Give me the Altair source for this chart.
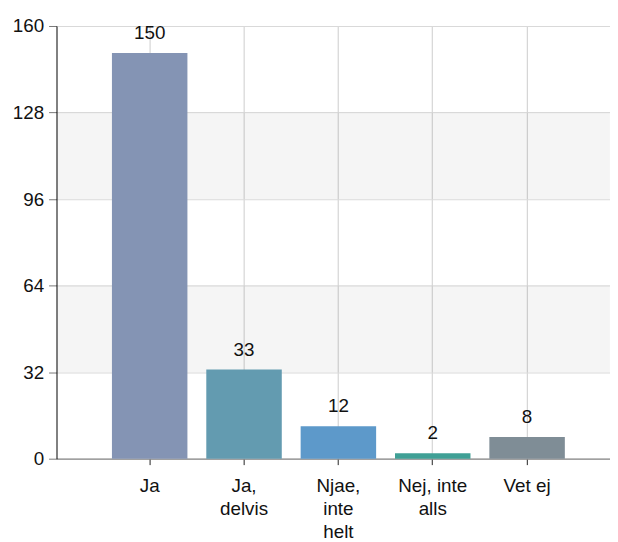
import json
import altair as alt
import pandas as pd

categories = ["Ja", "Ja, delvis", "Njae, inte helt", "Nej, inte alls", "Vet ej"]
counts = [150, 33, 12, 2, 8]
colors = ["#8494b4", "#639bb0", "#5d99ca", "#40a096", "#7f8d96"]
label_lines = [["Ja"], ["Ja,", "delvis"], ["Njae,", "inte", "helt"], ["Nej, inte", "alls"], ["Vet ej"]]
y_ticks = [0, 32, 64, 96, 128, 160]
band_lo = [32, 96]
band_hi = [64, 128]

FONT = "Arial, Liberation Sans, sans-serif"

df = pd.DataFrame({"cat": categories, "n": counts})
bands = pd.DataFrame({"lo": band_lo, "hi": band_hi})

expr = "datum.value"
for cat, lines in reversed(list(zip(categories, label_lines))):
    expr = f"datum.value === {json.dumps(cat)} ? {json.dumps(lines)} : ({expr})"

x_enc = alt.X(
    "cat:N",
    sort=categories,
    title=None,
    scale=alt.Scale(paddingInner=0.2, paddingOuter=0.533, align=0.551),
    axis=alt.Axis(
        labelAngle=0, labelExpr=expr, labelFont=FONT, labelFontSize=19,
        labelColor="#111", labelPadding=12, labelLineHeight=23.5,
        grid=True, gridColor="#cccccc", gridWidth=1,
        domainColor="#888888", domainWidth=1.2, tickColor="#222222", tickSize=6,
    ),
)

y_axis = alt.Axis(
    values=y_ticks, labelFont=FONT, labelFontSize=19, labelColor="#111",
    labelPadding=5, tickSize=8, tickColor="#777777", domainColor="#000000",
    domainWidth=1, grid=True, gridColor="#d9d9d9", gridWidth=1, title=None,
)
y_scale = alt.Scale(domain=[0, 160], nice=False)

band_layer = alt.Chart(bands).mark_rect(color="black", opacity=0.04).encode(
    y=alt.Y("lo:Q", scale=y_scale, axis=y_axis),
    y2="hi:Q",
    x=alt.value(0),
    x2=alt.value("width"),
)

bars = alt.Chart(df).mark_bar().encode(
    x=x_enc,
    y=alt.Y("n:Q", scale=y_scale, axis=y_axis),
    color=alt.Color("cat:N", scale=alt.Scale(domain=categories, range=colors), legend=None),
)

labels = alt.Chart(df).mark_text(
    dy=-14, baseline="alphabetic", fontSize=19, font=FONT, color="#111"
).encode(
    x=x_enc,
    y=alt.Y("n:Q", scale=y_scale, axis=y_axis),
    text="n:Q",
)

chart = alt.layer(band_layer, bars, labels).properties(
    width=559,
    height=437,
    autosize=alt.AutoSizeParams(type="none"),
    padding={"left": 49, "top": 15.5, "right": 0, "bottom": 83},
).configure_view(stroke=None)

chart.save("out.html", embed_options={"renderer": "svg", "actions": False})
